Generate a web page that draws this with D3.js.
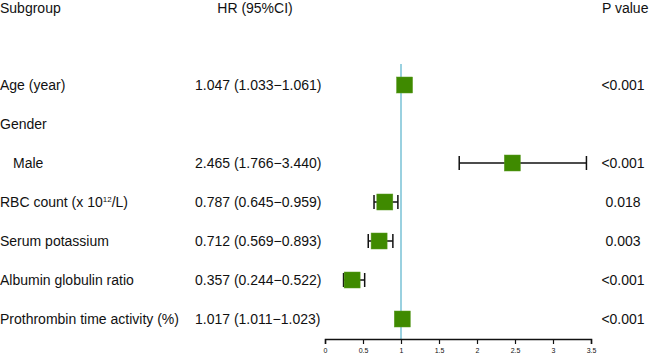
<!DOCTYPE html>
<html>
<head>
<meta charset="utf-8">
<script src="https://cdn.jsdelivr.net/npm/d3@7"></script>
<style>
  body { margin: 0; background: #fff; }
  svg text { font-family: "Liberation Sans", Arial, sans-serif; fill: #111; }
</style>
</head>
<body>
<svg id="chart" width="649" height="355"></svg>
<script>
// data
const subgroups = ["Age (year)", "Gender", "Male", "RBC count (x 10|12|/L)", "Serum potassium",
                   "Albumin globulin ratio", "Prothrombin time activity (%)"];
const indent = [false, false, true, false, false, false, false];
const hr = [1.047, null, 2.465, 0.787, 0.712, 0.357, 1.017];
const lower = [1.033, null, 1.766, 0.645, 0.569, 0.244, 1.011];
const upper = [1.061, null, 3.440, 0.959, 0.893, 0.522, 1.023];
const pvals = ["<0.001", "", "<0.001", "0.018", "0.003", "<0.001", "<0.001"];
const ticks = [0, 0.5, 1, 1.5, 2, 2.5, 3, 3.5];

const svg = d3.select("#chart");

const x = d3.scaleLinear().domain([0, 3.5]).range([325, 591]);
const y = d3.scalePoint().domain(d3.range(subgroups.length)).range([85, 319]);
const axisY = 339;
const fs = 14;

const fmt = d3.format(".3f");

// headers
svg.append("text").attr("x", 0).attr("y", 13).attr("font-size", fs).text("Subgroup");
svg.append("text").attr("x", 255).attr("y", 13).attr("font-size", fs)
  .attr("text-anchor", "middle").text("HR (95%CI)");
svg.append("text").attr("x", 602).attr("y", 13).attr("font-size", fs).text("P value");

// reference line at HR = 1
svg.append("line")
  .attr("x1", x(1)).attr("x2", x(1))
  .attr("y1", 64).attr("y2", axisY)
  .attr("stroke", "#78c2d6").attr("stroke-width", 1.5);

const rows = svg.selectAll(".row").data(subgroups).enter()
  .append("g").attr("class", "row");

// subgroup labels (with superscript support)
rows.each(function(d, i) {
  const t = d3.select(this).append("text")
    .attr("x", indent[i] ? 13 : 0).attr("y", y(i) + 5).attr("font-size", fs);
  const parts = d.split("|");
  t.append("tspan").text(parts[0]);
  if (parts.length > 1) {
    t.append("tspan").attr("font-size", 8).attr("dy", -5).text(parts[1]);
    t.append("tspan").attr("dy", 5).text(parts[2]);
  }
});

// HR text
rows.filter((d, i) => hr[i] != null).append("text")
  .attr("x", 195).attr("y", d => y(subgroups.indexOf(d)) + 5).attr("font-size", fs)
  .text(d => {
    const i = subgroups.indexOf(d);
    return `${fmt(hr[i])} (${fmt(lower[i])}\u2212${fmt(upper[i])})`;
  });

// p values
rows.append("text")
  .attr("x", 623).attr("y", (d, i) => y(i) + 5).attr("font-size", fs)
  .attr("text-anchor", "middle")
  .text((d, i) => pvals[i]);

// CIs and boxes
const idx = d3.range(subgroups.length).filter(i => hr[i] != null);
const ci = svg.append("g").attr("stroke", "#111").attr("stroke-width", 1.5);
ci.selectAll(".ci").data(idx).enter().append("line")
  .attr("x1", i => x(lower[i])).attr("x2", i => x(upper[i]))
  .attr("y1", i => y(i)).attr("y2", i => y(i));
ci.selectAll(".capl").data(idx).enter().append("line")
  .attr("x1", i => x(lower[i])).attr("x2", i => x(lower[i]))
  .attr("y1", i => y(i) - 7).attr("y2", i => y(i) + 7);
ci.selectAll(".capu").data(idx).enter().append("line")
  .attr("x1", i => x(upper[i])).attr("x2", i => x(upper[i]))
  .attr("y1", i => y(i) - 7).attr("y2", i => y(i) + 7);

const box = 16;
svg.selectAll(".box").data(idx).enter().append("rect")
  .attr("x", i => x(hr[i]) - box / 2).attr("y", i => y(i) - box / 2)
  .attr("width", box).attr("height", box)
  .attr("fill", "#3f8a00").attr("stroke", "#5a9a20").attr("stroke-width", 0.5);

// x axis
const ax = svg.append("g").attr("transform", `translate(0,${axisY})`)
  .call(d3.axisBottom(x).tickValues(ticks).tickFormat(d3.format("")).tickSize(5).tickPadding(4));
ax.select(".domain").attr("stroke", "#111").attr("stroke-width", 1.5);
ax.selectAll(".tick line").attr("stroke", "#111").attr("stroke-width", 1.2);
ax.selectAll(".tick text").attr("font-size", 7).attr("fill", "#222");
</script>
</body>
</html>
